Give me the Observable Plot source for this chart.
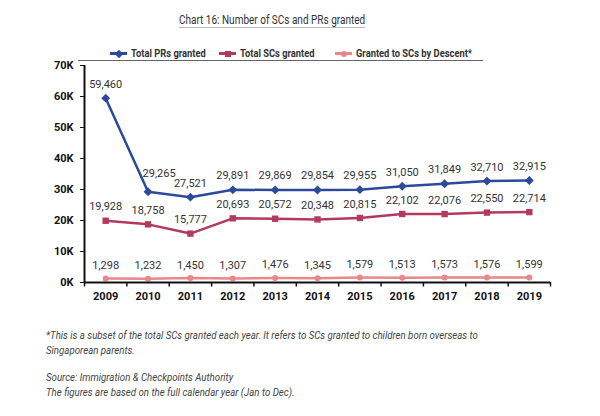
<!DOCTYPE html>
<html>
<head>
<meta charset="utf-8">
<script src="https://cdn.jsdelivr.net/npm/d3@7"></script>
<script src="https://cdn.jsdelivr.net/npm/@observablehq/plot@0.6"></script>
<style>
  html, body { margin: 0; padding: 0; background: #fff; }
  body { width: 600px; height: 416px; overflow: hidden; font-family: Roboto, sans-serif; color: #333; }
  #title { height: 42px; position: relative; }
  #title span { position: absolute; left: 179px; top: 12px; font-size: 12.5px; color: #333;
    transform: scaleX(0.8); transform-origin: 0 50%;
    text-decoration: underline; text-decoration-color: #bbb; text-underline-offset: 3px; white-space: nowrap; }
  #legend { position: relative; height: 18px; margin-left: 78px; width: 405px; border-bottom: 1px solid #666; margin-bottom: 1px; }
  .item { position: absolute; top: 5px; font-size: 11px; font-weight: bold; color: #333; white-space: nowrap; display: flex; align-items: center; }
  .item .lbl { display: inline-block; transform: scaleX(0.85); transform-origin: 0 50%; }
  .sw { position: relative; display: inline-block; width: 17px; height: 2.5px; margin-right: 4px; }
  .sw i { position: absolute; left: 50%; top: 50%; }
  #notes { position: absolute; left: 46px; top: 328px; font-size: 11px; font-style: italic; color: #444; line-height: 15px; white-space: nowrap;
    transform: scaleX(0.88); transform-origin: 0 0; }
  #notes p { margin: 0 0 12px 0; }
</style>
</head>
<body>
<div id="title"><span>Chart 16: Number of SCs and PRs granted</span></div>
<div id="legend"></div>
<div id="chart"></div>
<div id="notes">
  <p>*This is a subset of the total SCs granted each year. It refers to SCs granted to children born overseas to<br>Singaporean parents.</p>
  <p>Source: Immigration &amp; Checkpoints Authority<br>The figures are based on the full calendar year (Jan to Dec).</p>
</div>
<script>
const years = [2009, 2010, 2011, 2012, 2013, 2014, 2015, 2016, 2017, 2018, 2019];
const prsGranted = [59460, 29265, 27521, 29891, 29869, 29854, 29955, 31050, 31849, 32710, 32915];
const scsGranted = [19928, 18758, 15777, 20693, 20572, 20348, 20815, 22102, 22076, 22550, 22714];
const scsByDescent = [1298, 1232, 1450, 1307, 1476, 1345, 1579, 1513, 1573, 1576, 1599];
const seriesNames = ["Total PRs granted", "Total SCs granted", "Granted to SCs by Descent*"];
const seriesColors = ["#2b4a9b", "#b43a5c", "#e8878c"];
const yTicks = [0, 10000, 20000, 30000, 40000, 50000, 60000, 70000];

const fmt = d3.format(",");
const mk = (vals, s) => years.map((y, i) => ({year: y, value: vals[i], series: s}));
const prs = mk(prsGranted, seriesNames[0]);
const scs = mk(scsGranted, seriesNames[1]);
const desc = mk(scsByDescent, seriesNames[2]);
const boundaries = d3.range(years[0] - 0.5, years[years.length - 1] + 1, 1);

// legend
const legend = document.getElementById("legend");
const legendX = [32, 141, 257];
const shapes = ["diamond", "square", "circle"];
seriesNames.forEach((name, i) => {
  const item = document.createElement("div");
  item.className = "item";
  item.style.left = legendX[i] + "px";
  const sw = document.createElement("span");
  sw.className = "sw";
  sw.style.background = seriesColors[i];
  const m = document.createElement("i");
  const sz = 6;
  m.style.width = sz + "px"; m.style.height = sz + "px";
  m.style.marginLeft = (-sz / 2) + "px"; m.style.marginTop = (-sz / 2) + "px";
  m.style.background = seriesColors[i];
  if (shapes[i] === "diamond") m.style.transform = "rotate(45deg)";
  if (shapes[i] === "circle") m.style.borderRadius = "50%";
  sw.appendChild(m);
  item.appendChild(sw);
  const t = document.createElement("span");
  t.className = "lbl";
  t.textContent = name;
  item.appendChild(t);
  legend.appendChild(item);
});

const isFirstDrop = d => d.year === years[1];
const lineStyle = {x: "year", y: "value", strokeWidth: 2.5};
const labelStyle = {x: "year", y: "value", text: d => fmt(d.value), fontSize: 11, fill: "#333"};
const chart = Plot.plot({
  width: 600,
  height: 250,
  marginLeft: 84,
  marginRight: 50,
  marginTop: 3,
  marginBottom: 30,
  style: {fontFamily: "Roboto, sans-serif", overflow: "visible", background: "transparent"},
  x: {type: "linear", domain: [years[0] - 0.5, years[years.length - 1] + 0.5]},
  y: {domain: [0, 70000]},
  marks: [
    Plot.axisY({ticks: yTicks, tickFormat: d => d / 1000 + "K", tickSize: 4, tickPadding: 7,
      fontSize: 11, fontWeight: "bold", color: "#111", label: null}),
    Plot.axisX({ticks: boundaries, tickFormat: () => "", tickSize: 4.5, strokeWidth: 1.5, color: "#111", label: null}),
    Plot.axisX({ticks: years, tickFormat: d => String(d), tickSize: 0, tickPadding: 10,
      fontSize: 11, fontWeight: "bold", color: "#111", label: null}),
    Plot.lineY(desc, {...lineStyle, stroke: seriesColors[2]}),
    Plot.dot(desc, {x: "year", y: "value", fill: seriesColors[2], r: 3, symbol: "circle"}),
    Plot.lineY(scs, {...lineStyle, stroke: seriesColors[1]}),
    Plot.dot(scs, {x: "year", y: "value", fill: seriesColors[1], r: 3.6, symbol: "square"}),
    Plot.lineY(prs, {...lineStyle, stroke: seriesColors[0]}),
    Plot.dot(prs, {x: "year", y: "value", fill: seriesColors[0], r: 4, symbol: "diamond2"}),
    Plot.ruleX([years[0] - 0.5], {stroke: "#111", strokeWidth: 2}),
    Plot.ruleY([0], {stroke: "#111", strokeWidth: 2}),
    Plot.text(prs.filter(d => !isFirstDrop(d)), {...labelStyle, dy: -14}),
    Plot.text(prs.filter(isFirstDrop), {...labelStyle, dx: 11, dy: -18}),
    Plot.text(scs, {...labelStyle, dy: -14}),
    Plot.text(desc, {...labelStyle, dy: -13})
  ]
});
document.getElementById("chart").appendChild(chart);
</script>
</body>
</html>
